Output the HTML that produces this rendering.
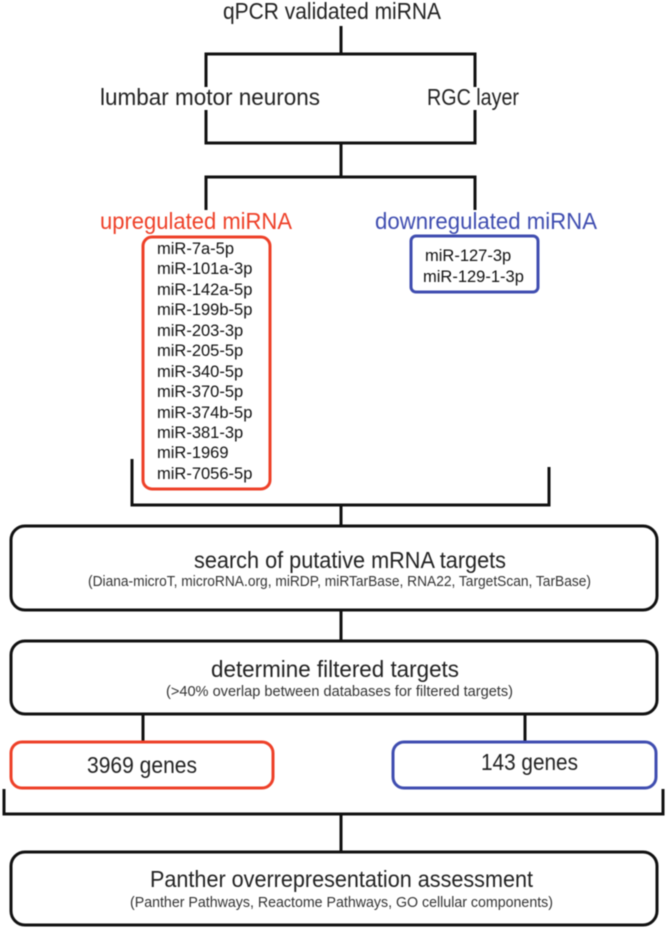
<!DOCTYPE html>
<html>
<head>
<meta charset="utf-8">
<style>
html,body{margin:0;padding:0;background:#fff;width:666px;height:928px;overflow:hidden}
svg{display:block;filter:blur(.4px)}
text{font-family:"Liberation Sans",sans-serif;fill:#222}
.h{font-size:23.5px}
.s{font-size:15px;fill:#333}
.m{font-size:16.5px;fill:#111}
.l{fill:none;stroke:#111;stroke-width:3}
.b{fill:#fff;stroke:#111;stroke-width:3}
.red{fill:#fff;stroke:#ee4028;stroke-width:3}
.blue{fill:#fff;stroke:#3f4db0;stroke-width:3}
</style>
</head>
<body>
<svg width="666" height="928" viewBox="0 0 666 928" xmlns="http://www.w3.org/2000/svg">
<path class="l" d="M341 26V54M206 87V54H475V87M206 110V143H475V110M341 143V177M206 210V177H475V210"/>
<path class="l" d="M132 459V505H549V467M341 505V526M341 610V641M143 714V742M525 714V742M4 789V814H663V789M341 814V852"/>

<text class="h" x="223" y="19" textLength="218" lengthAdjust="spacingAndGlyphs">qPCR validated miRNA</text>
<text class="h" x="100" y="105" textLength="220" lengthAdjust="spacingAndGlyphs">lumbar motor neurons</text>
<text class="h" x="427" y="105" textLength="92" lengthAdjust="spacingAndGlyphs">RGC layer</text>
<text class="h" x="100" y="229" textLength="192" lengthAdjust="spacingAndGlyphs" style="fill:#ee4028">upregulated miRNA</text>
<text class="h" x="375" y="229" textLength="222" lengthAdjust="spacingAndGlyphs" style="fill:#3f4db0">downregulated miRNA</text>

<rect class="red" x="143" y="237" width="127" height="252" rx="9"/>
<rect class="blue" x="411" y="236" width="127" height="56" rx="5"/>

<text class="m" x="157" y="254">miR-7a-5p</text>
<text class="m" x="157" y="274">miR-101a-3p</text>
<text class="m" x="157" y="295">miR-142a-5p</text>
<text class="m" x="157" y="315">miR-199b-5p</text>
<text class="m" x="157" y="336">miR-203-3p</text>
<text class="m" x="157" y="356">miR-205-5p</text>
<text class="m" x="157" y="377">miR-340-5p</text>
<text class="m" x="157" y="397">miR-370-5p</text>
<text class="m" x="157" y="418">miR-374b-5p</text>
<text class="m" x="157" y="438">miR-381-3p</text>
<text class="m" x="157" y="458">miR-1969</text>
<text class="m" x="157" y="479">miR-7056-5p</text>
<text class="m" x="425" y="261">miR-127-3p</text>
<text class="m" x="423" y="282">miR-129-1-3p</text>

<rect class="b" x="11" y="526" width="646" height="84" rx="14"/>
<text class="h" x="194" y="568" textLength="312" lengthAdjust="spacingAndGlyphs">search of putative mRNA targets</text>
<text class="s" x="88" y="586" textLength="503" lengthAdjust="spacingAndGlyphs">(Diana-microT, microRNA.org, miRDP, miRTarBase, RNA22, TargetScan, TarBase)</text>

<rect class="b" x="11" y="641" width="646" height="73" rx="14"/>
<text class="h" x="211" y="677" textLength="248" lengthAdjust="spacingAndGlyphs">determine filtered targets</text>
<text class="s" x="166" y="696" textLength="347" lengthAdjust="spacingAndGlyphs">(&gt;40% overlap between databases for filtered targets)</text>

<rect class="red" x="11" y="742" width="262" height="46" rx="11"/>
<text class="h" x="87" y="773" textLength="110" lengthAdjust="spacingAndGlyphs">3969 genes</text>
<rect class="blue" x="393" y="742" width="263" height="46" rx="11"/>
<text class="h" x="481" y="770" textLength="97" lengthAdjust="spacingAndGlyphs">143 genes</text>

<rect class="b" x="11" y="852" width="646" height="73" rx="14"/>
<text class="h" x="150" y="887" textLength="383" lengthAdjust="spacingAndGlyphs">Panther overrepresentation assessment</text>
<text class="s" x="130" y="907" textLength="423" lengthAdjust="spacingAndGlyphs">(Panther Pathways, Reactome Pathways, GO cellular components)</text>
</svg>
</body>
</html>
